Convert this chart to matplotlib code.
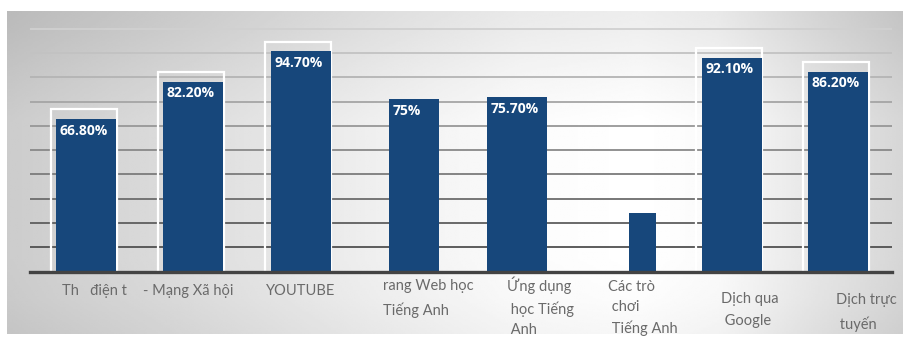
import numpy as np
import matplotlib
matplotlib.use("Agg")
import matplotlib.pyplot as plt
from matplotlib.colors import to_rgb

# ---- data ----
categories = ["Th   điện t", "- Mạng Xã hội", "YOUTUBE", "rang Web học\nTiếng Anh",
              "Ứng dụng\n học Tiếng\n Anh", "Các trò\n chơi\n Tiếng Anh",
              "Dịch qua\n Google", "Dịch trực\n tuyến"]
values = [66.8, 82.2, 94.7, 75.0, 75.7, 28.0, 92.1, 86.2]
value_labels = ["66.80%", "82.20%", "94.70%", "75%", "75.70%", "", "92.10%", "86.20%"]
outlined = [True, True, True, False, False, False, True, True]

# ---- style / layout ----
W, H = 904, 341
DPI = 100
BAR = "#17477b"
inset = 4.0                       # blue bar drawn slightly below the outlined value
nudge_px = [0, 0, 0, 6, 1, 19, 1, 0]
bar_w_px = [60, 60, 60, 50, 60, 27, 60, 60]
label_dx_px = [-24, -50, -35, -31, -10, -34, -11, -2]
label_top_px = [284, 284, 284, 279, 277, 280, 292, 293]
label_ls = [1.75, 1.75, 1.75, 1.75, 1.55, 1.55, 1.75, 1.75]

spacing = 107.43
x0_px = 86.0
base_px = 271.7
unit_px = 2.43   # pixels per percent
ax_left, ax_right, ax_top = 30, 892, 11

fig = plt.figure(figsize=(W / DPI, H / DPI), dpi=DPI)
fig.patch.set_facecolor("white")

# background panel with gradient
px_l, px_r, py_t, py_b = 7, 904, 11, 334
bg = fig.add_axes([px_l / W, 1 - py_b / H, (px_r - px_l) / W, (py_b - py_t) / H])
xs = np.linspace(px_l, px_r, 400)
ys = np.linspace(py_t, py_b, 200)
prof_x = [7, 60, 200, 380, 520, 640, 720, 820, 904]
prof_v = [0.80, 0.82, 0.87, 0.94, 0.985, 1.0, 0.98, 0.90, 0.84]
hx = np.interp(xs, prof_x, prof_v)
vy_pts = [11, 30, 70, 120, 260, 300, 334]
vy_val = [-0.07, -0.06, -0.03, 0.0, 0.0, -0.01, -0.03]
vy = np.interp(ys, vy_pts, vy_val)
img = np.clip(hx[None, :] + vy[:, None], 0, 1)
bg.imshow(img, cmap="gray", vmin=0, vmax=1, aspect="auto", extent=[0, 1, 0, 1])
bg.set_axis_off()

# main axes
ax = fig.add_axes([ax_left / W, 1 - base_px / H, (ax_right - ax_left) / W, (base_px - ax_top) / H])
ax.set_facecolor("none")
ax.set_xlim((ax_left - x0_px) / spacing, (ax_right - x0_px) / spacing)
ax.set_ylim(0, (base_px - ax_top) / unit_px)
for s in ax.spines.values():
    s.set_visible(False)
ax.set_xticks([])
ax.set_yticks([])

# gridlines (light at top, dark near the baseline)
c_top = np.array(to_rgb("#d0d0d0"))
c_bot = np.array(to_rgb("#505050"))
grid_vals = np.arange(10, 101, 10)
for g in grid_vals:
    t = (g - 10) / 90
    col = c_bot * (1 - t) + c_top * t
    ax.axhline(g, color=col, lw=1.3, zorder=1)

n = len(values)
pos = np.arange(n) + np.array(nudge_px) / spacing
widths = np.array(bar_w_px) / spacing

# white outline boxes
for i in range(n):
    if outlined[i]:
        ow = widths[i] + 6 / spacing
        ax.bar(pos[i] - 2.5 / spacing, values[i], width=ow, fill=False,
               edgecolor="white", lw=1.6, zorder=2)

# blue bars
heights = np.array(values) - inset
ax.bar(pos, heights, width=widths, color=BAR, zorder=3)

# baseline
ax.axhline(0, color="#434343", lw=2.4, zorder=4, clip_on=False)

# value labels
for i in range(n):
    if value_labels[i]:
        ax.annotate(value_labels[i], xy=(pos[i] - widths[i] / 2, heights[i]),
                    xytext=(3.5 * 0.72, -15.5 * 0.72), textcoords="offset points",
                    ha="left", va="baseline", color="white", fontsize=10,
                    fontweight="bold", family="Open Sans", zorder=5)

# category labels
for i in range(n):
    ax.annotate(categories[i], xy=(pos[i], 0),
                xytext=(label_dx_px[i] * 0.72, -(label_top_px[i] - base_px) * 0.72),
                textcoords="offset points", ha="left", va="top",
                color="#6a6a6a", fontsize=10.5, family="Lato",
                linespacing=label_ls[i], annotation_clip=False)

fig.savefig("out.png", dpi=DPI)
